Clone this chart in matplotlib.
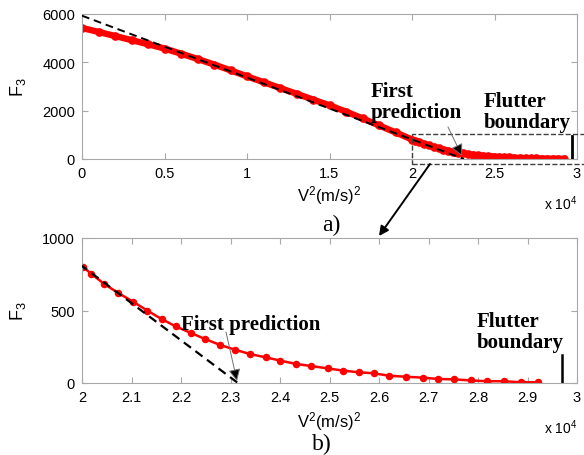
import matplotlib
matplotlib.use('Agg')
import matplotlib.pyplot as plt
from matplotlib.patches import Rectangle, FancyArrowPatch

plt.rcParams['font.family'] = ['Liberation Sans', 'DejaVu Sans']
plt.rcParams['mathtext.fontset'] = 'custom'
plt.rcParams['mathtext.rm'] = 'Liberation Sans'
plt.rcParams['mathtext.it'] = 'Liberation Sans:italic'

# V^2 in units of 1e4 (m/s)^2, F3 values
# coarse part of the curve (only visible in the top panel)
v2_coarse = [0.0, 0.1, 0.2, 0.3, 0.4, 0.5, 0.6, 0.7, 0.8, 0.9, 1.0,
             1.1, 1.2, 1.3, 1.4, 1.5, 1.6, 1.7, 1.8, 1.9]
f3_coarse = [5420, 5260, 5090, 4920, 4750, 4570, 4360, 4140, 3910, 3670, 3420,
             3180, 2940, 2700, 2460, 2220, 1960, 1680, 1390, 1100]

# fine part (markers of the zoomed panel)
v2_fine = [2.003, 2.019, 2.045, 2.073, 2.103, 2.132, 2.161, 2.189, 2.220, 2.249,
           2.279, 2.309, 2.339, 2.371, 2.401, 2.433, 2.463, 2.496, 2.528, 2.559,
           2.589, 2.621, 2.655, 2.688, 2.719, 2.751, 2.785, 2.818, 2.853, 2.887,
           2.921]
f3_fine = [798, 752, 683, 621, 561, 499, 441, 391, 345, 303,
           262, 230, 200, 177, 154, 131, 117, 101, 85, 74,
           67, 50, 43, 37, 28, 25, 18, 12, 12, 5,
           5]

# linear prediction line (dashed)
pred_v2 = [0.0, 2.315]
pred_f3 = [5930, 0]

# flutter boundary marks
flutter_v2 = 2.97
flutter_top_h = 960
flutter_bot_h = 195

W, H = 584, 456


def fp(x, y):
    """pixel position -> figure fraction"""
    return (x / W, 1 - y / H)


def style_axes(ax):
    for s in ax.spines.values():
        s.set_color('#a8a8a8')
        s.set_linewidth(0.8)
    ax.tick_params(direction='in', length=4, color='#a8a8a8', width=0.8,
                   top=True, right=True, labelsize=10.5, pad=5)


fig = plt.figure(figsize=(W / 100, H / 100), dpi=100)
ax1 = fig.add_axes([82 / W, 1 - 160 / H, 495 / W, 145 / H])
ax2 = fig.add_axes([82 / W, 1 - 384 / H, 495 / W, 145 / H])

serif = dict(family=['Liberation Serif', 'DejaVu Serif'], fontweight='bold',
             fontsize=15)

# ---- top panel ----
ax1.plot(v2_coarse + v2_fine, f3_coarse + f3_fine, color='red', lw=4.6,
         marker='o', ms=5.2, zorder=2)
ax1.plot(pred_v2, pred_f3, color='black', ls='--', dashes=(4, 2.5), lw=1.4,
         zorder=3)
ax1.plot([flutter_v2, flutter_v2], [0, flutter_top_h], color='black', lw=2,
         zorder=3)
ax1.set_xlim(0, 3)
ax1.set_ylim(0, 6000)
ax1.set_xticks([0, 0.5, 1, 1.5, 2, 2.5, 3])
ax1.set_xticklabels(['0', '0.5', '1', '1.5', '2', '2.5', '3'])
ax1.set_yticks([0, 2000, 4000, 6000])
style_axes(ax1)
ax1.set_ylabel('F$_{3}$', fontsize=13)
ax1.yaxis.set_label_coords(-0.11, 0.5)
ax1.set_xlabel('V$^{2}$(m/s)$^{2}$', fontsize=12, labelpad=2)
ax1.text(1.0, -0.3, 'x 10$^{4}$', transform=ax1.transAxes, ha='right',
         va='center', fontsize=10)
ax1.add_patch(Rectangle((2.0, -210), 1.2, 1265, fill=False, ls='--',
                        lw=1.0, edgecolor='#404040', clip_on=False, zorder=4))

# ---- bottom panel ----
ax2.plot(v2_fine, f3_fine, color='red', lw=1.8, marker='o', ms=4.4, zorder=2)
ax2.plot(pred_v2, pred_f3, color='black', ls='--', dashes=(4, 2.5), lw=1.6,
         zorder=3)
ax2.plot([flutter_v2, flutter_v2], [0, flutter_bot_h], color='black', lw=1.8,
         zorder=3)
ax2.set_xlim(2, 3)
ax2.set_ylim(0, 1000)
ax2.set_xticks([2 + 0.1 * i for i in range(11)])
ax2.set_xticklabels(['2', '2.1', '2.2', '2.3', '2.4', '2.5', '2.6', '2.7',
                     '2.8', '2.9', '3'])
ax2.set_yticks([0, 500, 1000])
style_axes(ax2)
ax2.set_ylabel('F$_{3}$', fontsize=13)
ax2.yaxis.set_label_coords(-0.11, 0.5)
ax2.set_xlabel('V$^{2}$(m/s)$^{2}$', fontsize=12, labelpad=4)
ax2.text(1.0, -0.3, 'x 10$^{4}$', transform=ax2.transAxes, ha='right',
         va='center', fontsize=10)

# ---- annotations (figure pixel positions) ----
fig.text(*fp(371, 82), 'First\nprediction', ha='left', va='top',
         linespacing=1.05, **serif)
fig.text(*fp(484, 92), 'Flutter\nboundary', ha='left', va='top',
         linespacing=1.05, **serif)
fig.text(*fp(181, 315), 'First prediction', ha='left', va='top', **serif)
fig.text(*fp(477, 312), 'Flutter\nboundary', ha='left', va='top',
         linespacing=1.05, **serif)

fig.text(*fp(331, 225), 'a)', ha='center', va='center',
         family=['Liberation Serif', 'DejaVu Serif'], fontsize=17)
fig.text(*fp(322, 444), 'b)', ha='center', va='center',
         family=['Liberation Serif', 'DejaVu Serif'], fontsize=17)

arrow_small = dict(arrowstyle='-|>', mutation_scale=18, fc='black',
                   ec='#707070', lw=0.7, shrinkA=0, shrinkB=0)
fig.add_artist(FancyArrowPatch(
    fp(448, 128), fp(462, 157), transform=fig.transFigure, **arrow_small))
fig.add_artist(FancyArrowPatch(
    fp(226, 333), fp(237, 382), transform=fig.transFigure, **arrow_small))
fig.add_artist(FancyArrowPatch(
    fp(430, 165), fp(379, 237), transform=fig.transFigure, arrowstyle='-|>',
    mutation_scale=14, color='black', lw=1.4, shrinkA=0, shrinkB=0))

fig.savefig('out.png', dpi=100)
